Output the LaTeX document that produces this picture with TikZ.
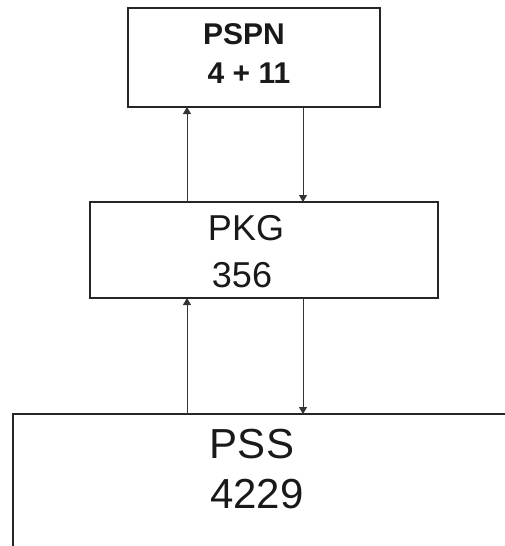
\documentclass[tikz,border=0pt]{standalone}
\usepackage{fontspec}
\setmainfont{Liberation Sans}
\usetikzlibrary{arrows.meta}
\begin{document}
\begin{tikzpicture}[x=1pt,y=-1pt,
  boxst/.style={draw=black!85,line width=1.6pt,rectangle,inner sep=0pt,outer sep=0pt},
  arr/.style={draw=black!80,line width=0.9pt,-{Triangle[length=7pt,width=8pt]}},
  lbl/.style={inner sep=0pt,outer sep=0pt,text=black!90}]
\useasboundingbox (0,0) rectangle (505,546);
\clip (0,0) rectangle (505,546);
\node[boxst,line width=2.2pt,minimum width=252pt,minimum height=99pt] (top) at (254,57.5) {};
\node[boxst,minimum width=348pt,minimum height=96pt] (mid) at (264,250) {};
\node[boxst,minimum width=600pt,minimum height=300pt] (bot) at (313,564) {};
\node[lbl,font=\fontsize{30}{30}\selectfont\bfseries] (t1) at (244,34) {PSPN};
\node[lbl,font=\fontsize{30}{30}\selectfont\bfseries] (t2) at (249,73) {4 + 11};
\node[lbl,font=\fontsize{36}{36}\selectfont] (m1) at (246,228) {PKG};
\node[lbl,font=\fontsize{36}{36}\selectfont] (m2) at (242,275) {356};
\node[lbl,font=\fontsize{42}{42}\selectfont] (b1) at (252,444) {PSS};
\node[lbl,font=\fontsize{42}{42}\selectfont] (b2) at (257,494) {4229};
\coordinate (xl) at (187,0);
\coordinate (xr) at (303,0);
\draw[arr] (mid.north -| xl) -- (top.south -| xl);
\draw[arr] (top.south -| xr) -- (mid.north -| xr);
\draw[arr] (bot.north -| xl) -- (mid.south -| xl);
\draw[arr] (mid.south -| xr) -- (bot.north -| xr);
\end{tikzpicture}
\end{document}
